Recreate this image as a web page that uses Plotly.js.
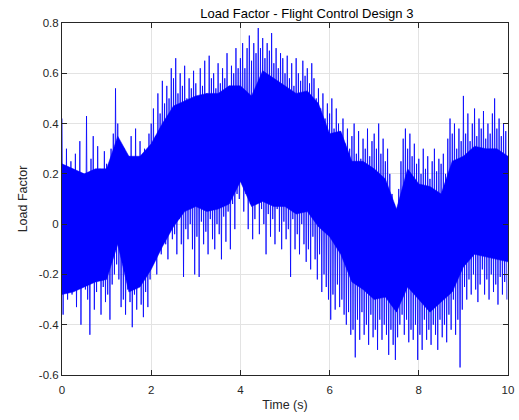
<!DOCTYPE html>
<html>
<head>
<meta charset="utf-8">
<script src="https://cdn.plot.ly/plotly-3.0.1.min.js"></script>
<style>
  html, body { margin: 0; padding: 0; background: #ffffff; }
  #chart { width: 519px; height: 420px; }
</style>
</head>
<body>
<div id="chart"></div>
<script>
// Sample spacing of the recorded peaks/troughs (s)
const sampleStep = 0.025;

// Load factor peaks / troughs (alternating), 0.5 s per row
const loadFactor = [
  0.42,-0.36,0.22,-0.22,0.30,-0.30,0.18,-0.18,0.25,-0.28,0.15,-0.25,0.28,-0.33,0.20,-0.20,0.33,-0.40,0.17,-0.24,
  0.20,-0.26,0.43,-0.30,0.18,-0.44,0.26,-0.22,0.35,-0.34,0.19,-0.27,0.31,-0.21,0.22,-0.36,0.17,-0.25,0.29,-0.31,
  0.24,-0.28,0.20,-0.38,0.30,-0.24,0.36,-0.20,0.54,-0.16,0.40,-0.22,0.25,-0.33,0.22,-0.30,0.30,-0.36,0.19,-0.26,
  0.27,-0.31,0.35,-0.41,0.21,-0.28,0.38,-0.34,0.24,-0.25,0.33,-0.32,0.20,-0.37,0.30,-0.27,0.26,-0.33,0.36,-0.22,
  0.40,-0.15,0.46,-0.10,0.35,-0.20,0.52,-0.05,0.44,-0.12,0.57,0.00,0.48,-0.08,0.55,-0.14,0.50,-0.02,0.62,-0.06,
  0.58,-0.04,0.66,-0.12,0.52,0.02,0.60,-0.08,0.55,-0.21,0.63,-0.02,0.50,-0.06,0.58,0.00,0.54,-0.10,0.61,-0.20,
  0.56,-0.05,0.50,-0.21,0.62,0.01,0.55,-0.08,0.65,-0.03,0.52,-0.12,0.67,0.02,0.58,-0.06,0.60,-0.10,0.54,0.00,
  0.64,-0.04,0.56,-0.14,0.62,0.03,0.58,-0.07,0.68,0.05,0.55,-0.10,0.63,0.08,0.60,-0.02,0.70,0.12,0.62,0.10,
  0.66,0.18,0.72,0.05,0.62,0.12,0.70,-0.02,0.75,0.08,0.65,-0.06,0.72,0.02,0.68,0.10,0.78,-0.04,0.70,0.06,
  0.74,0.00,0.66,-0.12,0.72,0.04,0.69,-0.05,0.76,0.02,0.64,-0.08,0.70,0.06,0.62,-0.03,0.68,-0.10,0.66,0.01,
  0.60,-0.06,0.67,-0.02,0.58,-0.21,0.64,0.02,0.55,-0.10,0.66,-0.04,0.60,-0.12,0.57,0.00,0.65,-0.08,0.59,-0.15,
  0.62,-0.10,0.56,-0.18,0.64,-0.05,0.58,-0.14,0.50,-0.22,0.54,-0.12,0.46,-0.27,0.52,-0.20,0.42,-0.25,0.48,-0.30,
  0.44,-0.38,0.50,-0.28,0.38,-0.34,0.46,-0.24,0.40,-0.33,0.36,-0.30,0.42,-0.36,0.32,-0.40,0.38,-0.35,0.30,-0.44,
  0.35,-0.42,0.40,-0.53,0.28,-0.38,0.37,-0.46,0.26,-0.35,0.34,-0.44,0.30,-0.40,0.38,-0.48,0.27,-0.36,0.33,-0.45,
  0.36,-0.42,0.30,-0.50,0.40,-0.38,0.28,-0.46,0.34,-0.40,0.25,-0.44,0.30,-0.52,0.20,-0.42,0.12,-0.48,0.08,-0.54,
  0.06,-0.45,0.14,-0.40,0.25,-0.36,0.34,-0.44,0.38,-0.38,0.30,-0.47,0.36,-0.42,0.27,-0.46,0.32,-0.40,0.24,-0.54,
  0.26,-0.44,0.20,-0.50,0.30,-0.38,0.22,-0.46,0.27,-0.42,0.18,-0.48,0.25,-0.40,0.30,-0.44,0.21,-0.50,0.26,-0.38,
  0.24,-0.45,0.28,-0.40,0.20,-0.47,0.34,-0.36,0.42,-0.42,0.36,-0.30,0.40,-0.44,0.30,-0.38,0.38,-0.57,0.33,-0.34,
  0.51,-0.25,0.36,-0.30,0.44,-0.22,0.33,-0.28,0.40,-0.20,0.46,-0.26,0.35,-0.31,0.42,-0.24,0.38,-0.18,0.45,-0.28,
  0.34,-0.22,0.40,-0.30,0.36,-0.20,0.44,-0.27,0.50,-0.24,0.38,-0.32,0.42,-0.21,0.35,-0.28,0.40,-0.23,0.37,-0.30
];

// Dense core of the signal (solid band), read every 0.25 s
const coreTime = [
  0, 0.25, 0.5, 0.75, 1, 1.25, 1.5, 1.75, 2, 2.25, 2.5, 2.75, 3, 3.25, 3.5, 3.75, 4, 4.25, 4.5, 4.75,
  5, 5.25, 5.5, 5.75, 6, 6.25, 6.5, 6.75, 7, 7.25, 7.5, 7.75, 8, 8.25, 8.5, 8.75, 9, 9.25, 9.5, 9.75, 10
];
const coreUpper = [
  0.24, 0.22, 0.20, 0.22, 0.22, 0.35, 0.27, 0.27, 0.32, 0.40, 0.47, 0.49, 0.51, 0.52, 0.52, 0.55, 0.55, 0.51, 0.61, 0.58,
  0.55, 0.52, 0.53, 0.48, 0.36, 0.37, 0.25, 0.25, 0.22, 0.18, 0.06, 0.22, 0.16, 0.15, 0.12, 0.25, 0.27, 0.31, 0.30, 0.30, 0.27
];
const coreLower = [
  -0.28, -0.27, -0.25, -0.23, -0.22, -0.08, -0.27, -0.25, -0.18, -0.09, -0.01, 0.05, 0.07, 0.05, 0.06, 0.08, 0.17, 0.07, 0.09, 0.07,
  0.07, 0.04, 0.05, -0.01, -0.05, -0.12, -0.23, -0.26, -0.30, -0.29, -0.35, -0.25, -0.30, -0.35, -0.31, -0.27, -0.17, -0.12, -0.13, -0.14, -0.15
];

// Tick values and labels
const xTickValues = [0, 2, 4, 6, 8, 10];
const xTickLabels = ['0', '2', '4', '6', '8', '10'];
const yTickValues = [-0.6, -0.4, -0.2, 0, 0.2, 0.4, 0.6, 0.8];
const yTickLabels = ['-0.6', '-0.4', '-0.2', '0', '0.2', '0.4', '0.6', '0.8'];

const timeSeconds = loadFactor.map((_, i) => i * sampleStep);

const fontFamily = '"Liberation Sans", Arial, Helvetica, sans-serif';
const axisColor = '#262626';
const signalColor = '#0000ff';

const coreLowTrace = {
  type: 'scatter', mode: 'lines',
  x: coreTime, y: coreLower,
  line: { color: signalColor, width: 0.5 },
  hoverinfo: 'skip', showlegend: false
};
const coreHighTrace = {
  type: 'scatter', mode: 'lines',
  x: coreTime, y: coreUpper,
  fill: 'tonexty', fillcolor: signalColor,
  line: { color: signalColor, width: 0.5 },
  hoverinfo: 'skip', showlegend: false
};
const signalTrace = {
  type: 'scatter',
  mode: 'lines',
  x: timeSeconds,
  y: loadFactor,
  line: { color: signalColor, width: 0.8, simplify: false },
  hoverinfo: 'skip',
  showlegend: false
};

const axisCommon = {
  showline: true,
  linecolor: axisColor,
  linewidth: 1,
  mirror: 'ticks',
  ticks: 'inside',
  ticklen: 5,
  tickwidth: 1,
  tickcolor: axisColor,
  showgrid: true,
  gridcolor: '#e3e3e3',
  gridwidth: 1,
  zeroline: false,
  tickfont: { family: fontFamily, size: 11.5, color: axisColor },
  fixedrange: true
};

const layout = {
  width: 519,
  height: 420,
  margin: { l: 62, r: 11, t: 23, b: 45 },
  paper_bgcolor: '#ffffff',
  plot_bgcolor: '#ffffff',
  font: { family: fontFamily, color: axisColor },
  title: {
    text: 'Load Factor - Flight Control Design 3',
    font: { family: fontFamily, size: 13, color: '#000000' },
    x: 0.549, xref: 'paper', xanchor: 'center',
    y: 0.967, yref: 'container', yanchor: 'middle'
  },
  xaxis: Object.assign({}, axisCommon, {
    range: [0, 10],
    tickmode: 'array',
    tickvals: xTickValues,
    ticktext: xTickLabels,
    ticklabelstandoff: 4,
    title: { text: 'Time (s)', font: { family: fontFamily, size: 12.5, color: axisColor }, standoff: 5 }
  }),
  yaxis: Object.assign({}, axisCommon, {
    range: [-0.6, 0.8],
    tickmode: 'array',
    tickvals: yTickValues,
    ticktext: yTickLabels,
    title: { text: 'Load Factor', font: { family: fontFamily, size: 12.5, color: axisColor }, standoff: 8 }
  })
};

Plotly.newPlot('chart', [coreLowTrace, coreHighTrace, signalTrace], layout, { displayModeBar: false, staticPlot: true });
</script>
</body>
</html>
